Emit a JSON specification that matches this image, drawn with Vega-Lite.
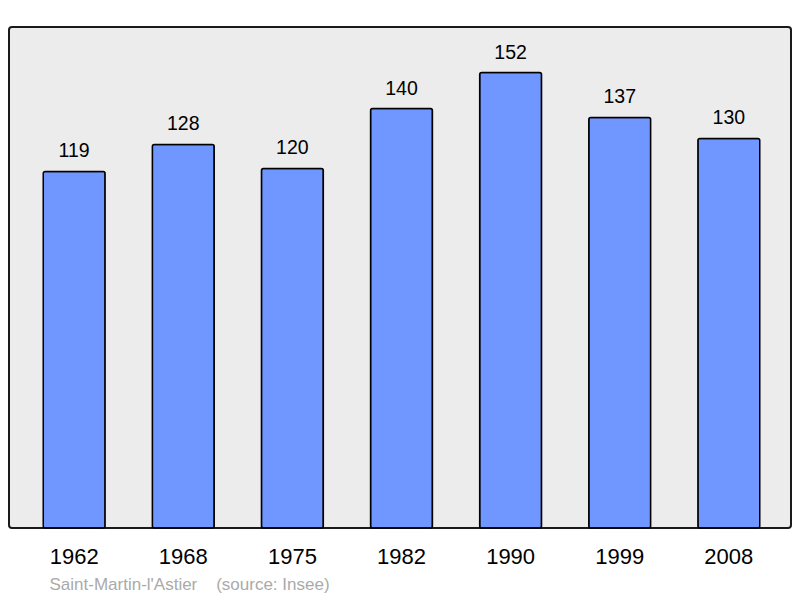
{
  "$schema": "https://vega.github.io/schema/vega-lite/v6.json",
  "width": 782,
  "height": 501,
  "autosize": {"type": "none"},
  "padding": {"left": 9, "top": 27, "right": 9, "bottom": 70},
  "background": "white",
  "config": {
    "font": "Liberation Sans",
    "view": {"fill": "#ececec", "stroke": "#1a1a1a", "strokeWidth": 2, "cornerRadius": 3}
  },
  "data": {
    "values": [
      {"year": "1962", "pop": 119},
      {"year": "1968", "pop": 128},
      {"year": "1975", "pop": 120},
      {"year": "1982", "pop": 140},
      {"year": "1990", "pop": 152},
      {"year": "1999", "pop": 137},
      {"year": "2008", "pop": 130}
    ]
  },
  "encoding": {
    "x": {
      "field": "year",
      "type": "ordinal",
      "scale": {"paddingInner": 0.433, "paddingOuter": 0.3},
      "axis": {
        "domain": false,
        "ticks": false,
        "labelAngle": 0,
        "labelFontSize": 22,
        "labelColor": "#000",
        "labelPadding": 18,
        "labelOffset": 1.5,
        "title": "Saint-Martin-l'Astier\u00a0\u00a0\u00a0\u00a0(source: Insee)",
        "titleColor": "#aaaaaa",
        "titleFontSize": 17,
        "titleFontWeight": "normal",
        "titleAnchor": "start",
        "titleX": 40,
        "titleY": 61,
        "titleBaseline": "alphabetic"
      }
    },
    "y": {
      "field": "pop",
      "type": "quantitative",
      "scale": {"domain": [0, 167.2], "nice": false},
      "axis": null
    }
  },
  "layer": [
    {
      "mark": {"type": "bar", "color": "#7096ff", "stroke": "#000", "strokeWidth": 1.5, "cornerRadius": 2, "xOffset": 1.5}
    },
    {
      "mark": {"type": "text", "baseline": "alphabetic", "dy": -14, "fontSize": 19.5, "color": "#000", "xOffset": 1.5},
      "encoding": {"text": {"field": "pop", "type": "quantitative"}}
    }
  ]
}
